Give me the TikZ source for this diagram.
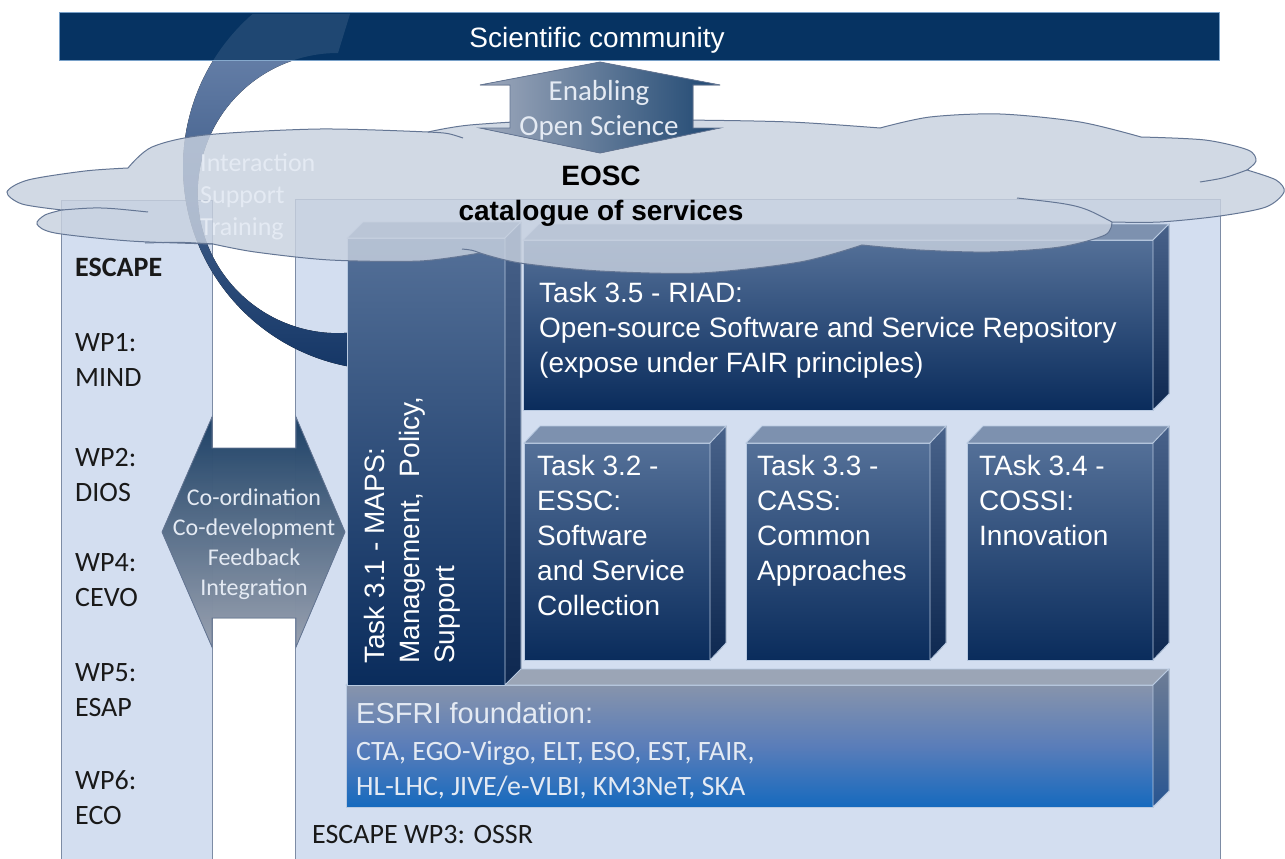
\documentclass[tikz,border=0pt]{standalone}
\usepackage{fontspec}
\setmainfont{Liberation Sans}
\newfontfamily\calibri{Carlito}
\pgfdeclarelayer{bg}
\pgfsetlayers{bg,main}

\definecolor{navy}{RGB}{6,51,98}
\definecolor{barline}{RGB}{120,160,200}
\definecolor{boxfill}{RGB}{211,222,240}
\definecolor{boxline}{RGB}{125,140,165}
\definecolor{cloudfill}{RGB}{200,209,223}
\definecolor{cloudline}{RGB}{100,118,148}
\definecolor{facetop}{RGB}{125,145,175}
\definecolor{frontup}{RGB}{84,112,152}
\definecolor{frontdown}{RGB}{10,44,92}
\definecolor{sideup}{RGB}{72,98,138}
\definecolor{sidedown}{RGB}{14,40,80}
\definecolor{edge}{RGB}{185,202,225}
\definecolor{esfriup}{RGB}{135,148,172}
\definecolor{esfrimid}{RGB}{90,125,185}
\definecolor{esfridown}{RGB}{22,106,190}
\definecolor{esfritopc}{RGB}{155,165,182}
\definecolor{esfrisideup}{RGB}{110,125,150}
\definecolor{esfrisidedown}{RGB}{40,85,145}
\definecolor{arcup}{RGB}{110,135,175}
\definecolor{arcdown}{RGB}{18,52,100}
\definecolor{paletext}{RGB}{228,234,243}

\tikzset{
    wpbox/.style={fill=boxfill, draw=boxline, line width=0.8pt},
    taskfront/.style={rectangle, draw=edge, line width=0.8pt, top color=frontup, bottom color=frontdown, inner sep=0pt, outer sep=0pt, anchor=north west},
    tasktop/.style={fill=facetop, draw=edge, line width=0.8pt},
    taskside/.style={top color=sideup, bottom color=sidedown, draw=edge, line width=0.8pt},
    tasktext/.style={text=white, align=left, inner sep=0pt, anchor=north west, font=\fontsize{28}{35}\selectfont},
    wptext/.style={text=black!90, align=left, inner sep=0pt, anchor=west, font=\calibri\fontsize{28}{35}\selectfont},
    cloud/.style={fill=cloudfill, fill opacity=0.82, draw=cloudline, line width=1pt},
    enarrow/.style={left color=esfriup!80!white, right color=navy!90!white, draw=cloudline, line width=0.8pt},
    coarrow/.style={top color=navy!90!white, bottom color=esfriup!70!white, draw=cloudline, line width=0.8pt, fill opacity=0.88},
}

\begin{document}
\begin{tikzpicture}[x=1pt, y=-1pt]
    \useasboundingbox (0,0) rectangle (1285,859);

    \begin{pgfonlayer}{bg}
        \fill[white] (0,0) rectangle (1285,859);
        \filldraw[wpbox] (61,200) rectangle (212,870);
        \filldraw[wpbox] (295,199) rectangle (1220,870);
        % curved band from the community bar to task 3.1
        \fill[top color=arcup, bottom color=arcdown] (386,167) ++(228.9:203) arc (228.9:80:203) -- (362,331) arc (80:270:140) -- (350,14) -- cycle;
    \end{pgfonlayer}

    \node (esfri) [taskfront, top color=esfriup, bottom color=esfridown, middle color=esfrimid, minimum width=807pt, minimum height=122pt] at (346,685) {};
    \filldraw[tasktop, fill=esfritopc] (esfri.north west) -- ++(16,-16) -- ([shift={(16,-16)}]esfri.north east) -- (esfri.north east) -- cycle;
    \filldraw[taskside, top color=esfrisideup, bottom color=esfrisidedown] (esfri.north east) -- ++(16,-16) -- ([shift={(16,-16)}]esfri.south east) -- (esfri.south east) -- cycle;

    \node (t31) [taskfront, minimum width=158pt, minimum height=447pt] at (347,238) {};
    \filldraw[tasktop] (t31.north west) -- ++(16,-16) -- ([shift={(16,-16)}]t31.north east) -- (t31.north east) -- cycle;
    \filldraw[taskside] (t31.north east) -- ++(16,-16) -- ([shift={(16,-16)}]t31.south east) -- (t31.south east) -- cycle;

    \node (t35) [taskfront, minimum width=630pt, minimum height=170pt] at (523,240) {};
    \filldraw[tasktop] (t35.north west) -- ++(16,-16) -- ([shift={(16,-16)}]t35.north east) -- (t35.north east) -- cycle;
    \filldraw[taskside] (t35.north east) -- ++(16,-16) -- ([shift={(16,-16)}]t35.south east) -- (t35.south east) -- cycle;

    \node (t32) [taskfront, minimum width=186pt, minimum height=217pt] at (524,443) {};
    \filldraw[tasktop] (t32.north west) -- ++(16,-17) -- ([shift={(16,-17)}]t32.north east) -- (t32.north east) -- cycle;
    \filldraw[taskside] (t32.north east) -- ++(16,-17) -- ([shift={(16,-17)}]t32.south east) -- (t32.south east) -- cycle;

    \node (t33) [taskfront, minimum width=184pt, minimum height=217pt] at (746,443) {};
    \filldraw[tasktop] (t33.north west) -- ++(16,-17) -- ([shift={(16,-17)}]t33.north east) -- (t33.north east) -- cycle;
    \filldraw[taskside] (t33.north east) -- ++(16,-17) -- ([shift={(16,-17)}]t33.south east) -- (t33.south east) -- cycle;

    \node (t34) [taskfront, minimum width=186pt, minimum height=217pt] at (967,443) {};
    \filldraw[tasktop] (t34.north west) -- ++(16,-17) -- ([shift={(16,-17)}]t34.north east) -- (t34.north east) -- cycle;
    \filldraw[taskside] (t34.north east) -- ++(16,-17) -- ([shift={(16,-17)}]t34.south east) -- (t34.south east) -- cycle;

    \node (t31txt) [tasktext, rotate=90] at (364,664) {Task 3.1 - MAPS:\\Management,\ \ Policy,\\Support};
    \node (t35txt) [tasktext] at (539,282) {Task 3.5 - RIAD:\\Open-source Software and Service Repository\\(expose under FAIR principles)};
    \node (t32txt) [tasktext] at (537,455) {Task 3.2 -\\ESSC:\\Software\\and Service\\Collection};
    \node (t33txt) [tasktext] at (757,455) {Task 3.3 -\\CASS:\\Common\\Approaches};
    \node (t34txt) [tasktext] at (979,455) {TAsk 3.4 -\\COSSI:\\Innovation};

    \node (esfritxt) [tasktext, anchor=west, text=paletext, font=\fontsize{29}{35}\selectfont] at (356,713) {ESFRI foundation:};
    \node (esfrilist) [tasktext, anchor=west, text=paletext, font=\calibri\fontsize{28}{35}\selectfont] at (356,770) {CTA, EGO-Virgo, ELT, ESO, EST, FAIR,\\HL-LHC, JIVE/e-VLBI, KM3NeT, SKA};

    % EOSC cloud
    \filldraw[cloud]
        plot[smooth] coordinates {(62,210) (22,204) (7,192) (28,180) (85,171) (128,168)}
        -- plot[smooth] coordinates {(128,168) (152,147) (205,135) (320,129) (428,132)}
        -- plot[smooth] coordinates {(428,132) (470,125) (560,120) (680,120) (790,122) (880,128)}
        -- plot[smooth] coordinates {(880,128) (930,117) (1000,114) (1080,122) (1141,137)}
        -- plot[smooth] coordinates {(1141,137) (1205,140) (1248,150) (1256,161) (1247,170)}
        -- plot[smooth] coordinates {(1247,170) (1276,180) (1284,192) (1266,207) (1220,216) (1160,222) (1112,222)}
        -- plot[smooth] coordinates {(1112,222) (1105,235) (1060,247) (990,252) (920,250) (862,245)}
        -- plot[smooth] coordinates {(862,245) (800,262) (700,273) (600,271) (520,263) (480,253)}
        -- plot[smooth] coordinates {(480,253) (420,261) (330,260) (255,252) (213,244)}
        -- plot[smooth] coordinates {(213,244) (130,241) (55,233) (37,224) (45,215) (62,210)}
        -- cycle;
    \draw[cloudline, line width=1pt] (62,210) .. controls (100,207) .. (148,212);
    \draw[cloudline, line width=1pt] (213,244) .. controls (180,242) .. (145,243);
    \draw[cloudline, line width=1pt] (428,132) .. controls (448,133) .. (463,138);
    \draw[cloudline, line width=1pt] (1247,170) .. controls (1225,178) .. (1200,182);
    \draw[cloudline, line width=1pt] (1112,222) .. controls (1080,205) .. (1017,198);
    \draw[cloudline, line width=1pt] (480,253) .. controls (472,250) .. (462,249);

    \node (eosc) [align=center, inner sep=0pt, font=\bfseries\fontsize{28}{35}\selectfont] at (601,196) {EOSC\\catalogue of services};
    \node (ist) [align=left, inner sep=0pt, anchor=west, text=paletext, font=\calibri\fontsize{26}{32}\selectfont] at (200,197) {Interaction\\Support\\Training};

    \node (bar) [rectangle, fill=navy, draw=barline, line width=0.8pt, inner sep=0pt, anchor=north west, minimum width=1160pt, minimum height=48pt] at (59,12) {};
    \begin{scope}
        \clip (bar.north west) rectangle (bar.south east);
        \fill[white, fill opacity=0.1] (386,167) ++(228.9:203) arc (228.9:180:203) -- (198,193) arc (180:270:140) -- (350,14) -- cycle;
    \end{scope}
    \node (sci) [inner sep=0pt, text=white, font=\fontsize{28}{35}\selectfont] at (597,40) {Scientific community};

    \filldraw[enarrow] (600,62) -- (720,85) -- (693,85) -- (693,128) -- (720,128) -- (600,153) -- (480,128) -- (510,128) -- (510,85) -- (480,85) -- cycle;
    \node (entxt) [align=center, inner sep=0pt, text=paletext, font=\calibri\fontsize{29}{35}\selectfont] at (599,110) {Enabling\\Open Science};

    \filldraw[coarrow] (162,532) -- (212,417) -- (212,448) -- (296,448) -- (296,417) -- (345,532) -- (296,647) -- (296,618) -- (212,618) -- (212,647) -- cycle;
    \node (cotxt) [align=center, inner sep=0pt, text=paletext, font=\calibri\fontsize{24}{30}\selectfont] at (254,544) {Co-ordination\\Co-development\\Feedback\\Integration};

    \node (escape) [wptext, font=\calibri\bfseries\fontsize{28}{35}\selectfont] at (75,267) {ESCAPE};
    \node (wp1) [wptext] at (75,360) {WP1:\\MIND};
    \node (wp2) [wptext] at (75,475) {WP2:\\DIOS};
    \node (wp4) [wptext] at (75,580) {WP4:\\CEVO};
    \node (wp5) [wptext] at (75,690) {WP5:\\ESAP};
    \node (wp6) [wptext] at (75,798) {WP6:\\ECO};
    \node (wp3) [wptext] at (312,835) {ESCAPE WP3: OSSR};
\end{tikzpicture}
\end{document}
